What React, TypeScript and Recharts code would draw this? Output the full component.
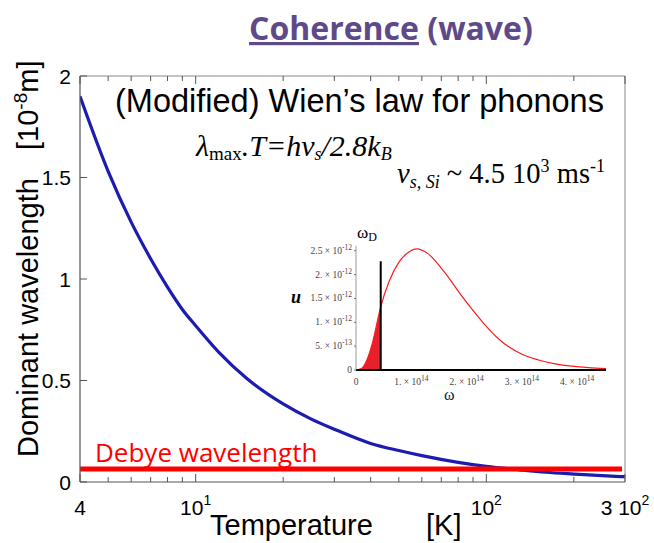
import React from 'react';
import {
    ComposedChart,
    Line,
    Area,
    XAxis,
    YAxis,
    ReferenceLine,
} from 'recharts';

// main plot: dominant phonon wavelength [1e-8 m] vs temperature [K]
const temperatureK = [4, 5, 6, 7, 8, 9, 10, 12, 15, 20, 25, 30, 40, 50, 60, 80, 100, 130, 160, 200, 250, 300];
const wavelength = [1.9, 1.53, 1.28, 1.1, 0.96, 0.85, 0.77, 0.64, 0.51, 0.385, 0.31, 0.26, 0.19, 0.155, 0.13, 0.097, 0.077, 0.06, 0.048, 0.039, 0.031, 0.026];
const debyeWavelength = 0.064;
const debyeSpan = [4, 293];

const tempTicks = [4, 5, 6, 7, 8, 9, 10, 20, 30, 40, 50, 60, 70, 80, 90, 100, 200, 300];
const tempLabels: Record<number, [string, string]> = {
    4: ['4', ''],
    10: ['10', '1'],
    100: ['10', '2'],
    300: ['3 10', '2'],
};
const wlTicks = [0, 0.5, 1, 1.5, 2];

// inset: energy density u(omega), omega in 1e14, u in 1e-12
const omega = [0, 0.1, 0.2, 0.3, 0.447, 0.6, 0.77, 0.95, 1.1, 1.3, 1.6, 1.9, 2.1, 2.3, 2.6, 3.0, 3.3, 3.6, 3.9, 4.2, 4.52];
const energy = [0, 0.03, 0.22, 0.58, 1.33, 1.86, 2.25, 2.47, 2.54, 2.44, 2.05, 1.57, 1.27, 0.99, 0.63, 0.33, 0.21, 0.13, 0.08, 0.05, 0.03];
const omegaDebye = 0.447;
const omegaDebyeTop = 2.28;
const uTicks = [0, 0.5, 1, 1.5, 2, 2.5];
const uLabels: [string, string][] = [['0', ''], ['5. × 10', '-13'], ['1. × 10', '-12'], ['1.5 × 10', '-12'], ['2. × 10', '-12'], ['2.5 × 10', '-12']];
const omegaTicks = [0, 1, 2, 3, 4];
const omegaLabels: [string, string][] = [['0', ''], ['1. × 10', '14'], ['2. × 10', '14'], ['3. × 10', '14'], ['4. × 10', '14']];

const mainData = temperatureK.map((t, i) => ({ t, wl: wavelength[i] }));
const insetData = omega.map((w, i) => ({
    w,
    u: energy[i],
    fill: w <= omegaDebye ? energy[i] : null,
}));

const sans = '"Liberation Sans", Arial, sans-serif';
const serif = '"Liberation Serif", "Times New Roman", serif';
const axisColor = '#555';

const BottomTick = ({ x, y, payload }: any) => {
    const lab = tempLabels[payload.value];
    return (
        <g>
            <line x1={x} x2={x} y1={y} y2={y - (lab ? 8 : 5)} stroke={axisColor} />
            {lab && (
                <text x={x} y={y + 33} textAnchor="middle" fontSize={21} fontFamily={sans} fill="#000">
                    {lab[0]}
                    {lab[1] && <tspan dy={-10} fontSize={14}>{lab[1]}</tspan>}
                </text>
            )}
        </g>
    );
};

const TopTick = ({ x, y, payload }: any) => {
    const major = !!tempLabels[payload.value];
    return <line x1={x} x2={x} y1={y} y2={y + (major ? 8 : 5)} stroke={axisColor} />;
};

const LeftTick = ({ x, y, payload }: any) => (
    <g>
        <line x1={x} x2={x + 7} y1={y} y2={y} stroke={axisColor} />
        <text x={x - 9} y={y + 7.5} textAnchor="end" fontSize={21} fontFamily={sans} fill="#000">
            {String(payload.value)}
        </text>
    </g>
);

const InsetYTick = ({ x, y, index }: any) => {
    const lab = uLabels[index];
    return (
        <g>
            <line x1={x} x2={x - 2} y1={y} y2={y} stroke="#777" />
            <text x={x - 4} y={y + 3} textAnchor="end" fontSize={9.5} fontFamily={serif} fill="#444">
                {lab[0]}
                {lab[1] && <tspan dy={-4} fontSize={7.5}>{lab[1]}</tspan>}
            </text>
        </g>
    );
};

const InsetXTick = ({ x, y, index }: any) => {
    const lab = omegaLabels[index];
    return (
        <text x={x} y={y + 15} textAnchor="middle" fontSize={9.5} fontFamily={serif} fill="#444">
            {lab[0]}
            {lab[1] && <tspan dy={-4} fontSize={7.5}>{lab[1]}</tspan>}
        </text>
    );
};

export default function App() {
    return (
        <div style={{ position: 'absolute', left: 0, top: 0, width: 654, height: 543, background: '#fff' }}>
            <div style={{ position: 'absolute', left: 0, top: 0 }}>
                <ComposedChart width={654} height={543} data={mainData} margin={{ top: 0, right: 0, left: 0, bottom: 0 }}>
                    <XAxis
                        dataKey="t"
                        type="number"
                        scale="log"
                        domain={[4, 300]}
                        allowDataOverflow
                        ticks={tempTicks}
                        interval={0}
                        height={61}
                        tickSize={0}
                        tickMargin={0}
                        tickLine={false}
                        tick={<BottomTick />}
                        axisLine={{ stroke: axisColor, strokeWidth: 1.2 }}
                    />
                    <XAxis
                        xAxisId="top"
                        orientation="top"
                        dataKey="t"
                        type="number"
                        scale="log"
                        domain={[4, 300]}
                        allowDataOverflow
                        ticks={tempTicks}
                        interval={0}
                        height={76}
                        tickSize={0}
                        tickMargin={0}
                        tickLine={false}
                        tick={<TopTick />}
                        axisLine={{ stroke: '#888', strokeWidth: 1 }}
                    />
                    <YAxis
                        type="number"
                        domain={[0, 2]}
                        ticks={wlTicks}
                        interval={0}
                        width={80}
                        tickSize={0}
                        tickMargin={0}
                        tickLine={false}
                        tick={<LeftTick />}
                        axisLine={{ stroke: axisColor, strokeWidth: 1.2 }}
                    />
                    <YAxis
                        yAxisId="right"
                        orientation="right"
                        type="number"
                        domain={[0, 2]}
                        ticks={wlTicks}
                        width={29}
                        tick={false}
                        tickLine={false}
                        axisLine={{ stroke: '#888', strokeWidth: 1 }}
                    />
                    <Line
                        dataKey="wl"
                        type="monotone"
                        stroke="#1c1cb0"
                        strokeWidth={3.2}
                        dot={false}
                        isAnimationActive={false}
                    />
                    <ReferenceLine
                        segment={[{ x: debyeSpan[0], y: debyeWavelength }, { x: debyeSpan[1], y: debyeWavelength }]}
                        stroke="#ff0000"
                        strokeWidth={5}
                    />
                </ComposedChart>
            </div>

            <div style={{ position: 'absolute', left: 290, top: 220 }}>
                <ComposedChart width={330} height={190} data={insetData} margin={{ top: 26, right: 14, left: 0, bottom: 0 }}>
                    <XAxis
                        dataKey="w"
                        type="number"
                        domain={[0, 4.52]}
                        ticks={omegaTicks}
                        interval={0}
                        height={40}
                        tickSize={0}
                        tickMargin={0}
                        tickLine={false}
                        tick={<InsetXTick />}
                        axisLine={{ stroke: '#000', strokeWidth: 2 }}
                    />
                    <YAxis
                        type="number"
                        domain={[0, 2.6]}
                        ticks={uTicks}
                        interval={0}
                        width={66}
                        tickSize={0}
                        tickMargin={0}
                        tickLine={false}
                        tick={<InsetYTick />}
                        axisLine={{ stroke: '#999', strokeWidth: 1 }}
                    />
                    <Area
                        dataKey="fill"
                        type="monotone"
                        fill="#e8202a"
                        fillOpacity={1}
                        stroke="none"
                        isAnimationActive={false}
                    />
                    <Line
                        dataKey="u"
                        type="monotone"
                        stroke="#ff1a1a"
                        strokeWidth={1.2}
                        dot={false}
                        isAnimationActive={false}
                    />
                    <ReferenceLine
                        segment={[{ x: omegaDebye, y: 0 }, { x: omegaDebye, y: omegaDebyeTop }]}
                        stroke="#000"
                        strokeWidth={2}
                    />
                </ComposedChart>
            </div>

            <svg width={654} height={543} style={{ position: 'absolute', left: 0, top: 0, pointerEvents: 'none' }}>
                <text x={249} y={40} fontFamily='"Open Sans", sans-serif' fontWeight={700} fontSize={32} fill="#5e4a89">
                    <tspan style={{ textDecoration: 'underline' }}>Coherence</tspan> (wave)
                </text>
                <text x={115} y={112} fontFamily={sans} fontSize={32.5} fill="#000">
                    (Modified) Wien’s law for phonons
                </text>
                <text x={196} y={156} fontFamily={serif} fontStyle="italic" fontSize={30} fill="#000">
                    λ<tspan fontStyle="normal" fontSize={19} dy={4}>max</tspan>
                    <tspan dy={-4}>.T=hv</tspan>
                    <tspan fontSize={18} dy={4}>s</tspan>
                    <tspan dy={-4}>/2.8k</tspan>
                    <tspan fontSize={18} dy={4}>B</tspan>
                </text>
                <text x={397} y={183} fontFamily={serif} fontSize={28.5} fill="#000">
                    <tspan fontStyle="italic">v</tspan>
                    <tspan fontStyle="italic" fontSize={18} dy={5}>s, Si</tspan>
                    <tspan dy={-5}> ~ 4.5 10</tspan>
                    <tspan fontSize={18} dy={-11}>3</tspan>
                    <tspan dy={11}> ms</tspan>
                    <tspan fontSize={18} dy={-11}>-1</tspan>
                </text>
                <text x={95} y={462} fontFamily='"Open Sans", sans-serif' fontSize={26} fill="#ff0000">
                    Debye wavelength
                </text>
                <text x={38} y={457} transform="rotate(-90 38 457)" fontFamily={sans} fontSize={29} fill="#000">
                    Dominant wavelength
                </text>
                <text x={38} y={150} transform="rotate(-90 38 150)" fontFamily={sans} fontSize={29} fill="#000">
                    [10<tspan fontSize={19} dy={-11}>-8</tspan><tspan dy={11}>m]</tspan>
                </text>
                <text x={210} y={535} fontFamily={sans} fontSize={29} fill="#000">Temperature</text>
                <text x={426} y={535} fontFamily={sans} fontSize={29} fill="#000">[K]</text>
                <text x={357} y={238} fontFamily={serif} fontSize={17} fill="#000">
                    ω<tspan fontSize={12} dy={3}>D</tspan>
                </text>
                <text x={291} y={303} fontFamily={serif} fontStyle="italic" fontWeight={700} fontSize={18} fill="#000">u</text>
                <text x={444} y={400} fontFamily={serif} fontSize={16} fill="#0a1a4a">ω</text>
            </svg>
        </div>
    );
}
